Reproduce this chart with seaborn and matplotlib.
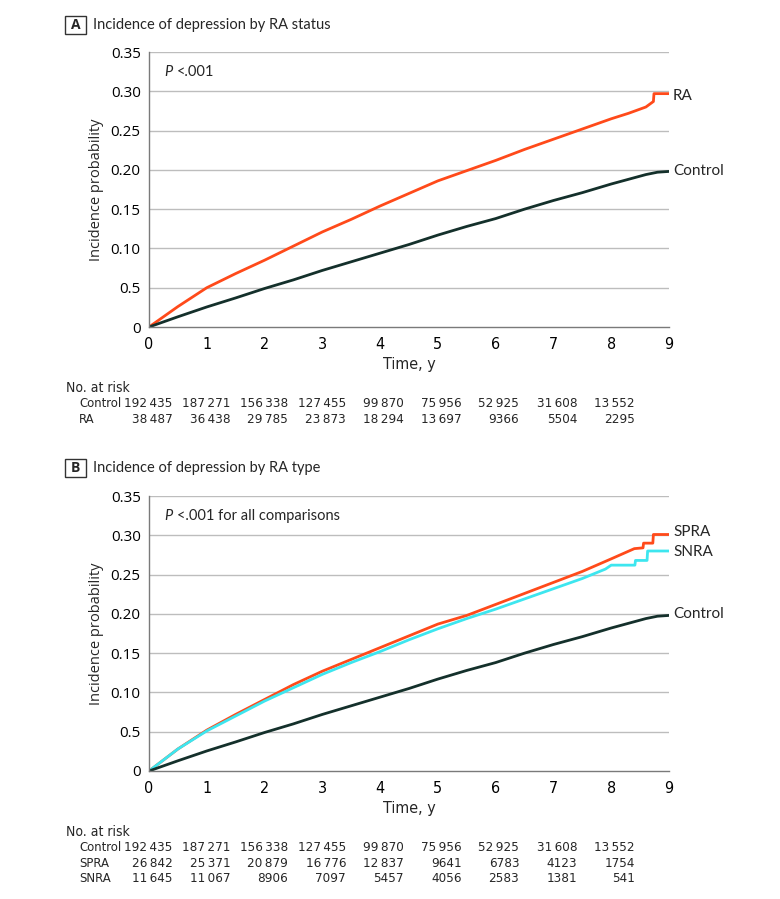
import matplotlib
matplotlib.use("Agg")
import matplotlib.pyplot as plt
import matplotlib.transforms as mtransforms
from matplotlib import font_manager
from matplotlib.font_manager import FontProperties
from matplotlib.patches import Rectangle
import seaborn as sns
import pandas as pd

# ---------------- data ----------------
# Panel A
t_ctrl = [0, 0.5, 1, 1.5, 2, 2.5, 3, 3.5, 4, 4.5, 5, 5.5, 6, 6.5, 7, 7.5, 8, 8.3, 8.6, 8.8, 9]
ctrl = [0, 0.013, 0.0255, 0.037, 0.049, 0.060, 0.072, 0.083, 0.094, 0.105, 0.117, 0.128,
        0.138, 0.150, 0.161, 0.171, 0.182, 0.188, 0.194, 0.197, 0.198]

t_ra = [0, 0.5, 1, 1.5, 2, 2.5, 3, 3.5, 4, 4.5, 5, 5.5, 6, 6.5, 7, 7.5, 8, 8.3, 8.6, 8.73, 8.74, 9]
ra = [0, 0.026, 0.050, 0.068, 0.085, 0.103, 0.121, 0.137, 0.154, 0.170, 0.186, 0.199,
      0.212, 0.226, 0.239, 0.252, 0.265, 0.272, 0.280, 0.287, 0.297, 0.297]

# Panel B
t_spra = [0, 0.5, 1, 1.5, 2, 2.5, 3, 3.5, 4, 4.5, 5, 5.5, 6, 6.5, 7, 7.5, 8, 8.4, 8.55,
          8.56, 8.72, 8.73, 9]
spra = [0, 0.028, 0.052, 0.072, 0.091, 0.110, 0.127, 0.142, 0.157, 0.172, 0.187, 0.198,
        0.212, 0.226, 0.240, 0.254, 0.270, 0.283, 0.284, 0.290, 0.290, 0.301, 0.301]

t_snra = [0, 0.5, 1, 1.5, 2, 2.5, 3, 3.5, 4, 4.5, 5, 5.5, 6, 6.5, 7, 7.5, 7.9, 8.0, 8.41,
          8.42, 8.62, 8.63, 9]
snra = [0, 0.028, 0.051, 0.070, 0.089, 0.106, 0.123, 0.138, 0.152, 0.167, 0.181, 0.194,
        0.206, 0.219, 0.232, 0.245, 0.257, 0.262, 0.262, 0.268, 0.268, 0.280, 0.280]

risk_times = [0, 1, 2, 3, 4, 5, 6, 7, 8]
risk_ctrl = ["192\u2009435", "187\u2009271", "156\u2009338", "127\u2009455", "99\u2009870",
             "75\u2009956", "52\u2009925", "31\u2009608", "13\u2009552"]
risk_ra = ["38\u2009487", "36\u2009438", "29\u2009785", "23\u2009873", "18\u2009294",
           "13\u2009697", "9366", "5504", "2295"]
risk_spra = ["26\u2009842", "25\u2009371", "20\u2009879", "16\u2009776", "12\u2009837",
             "9641", "6783", "4123", "1754"]
risk_snra = ["11\u2009645", "11\u2009067", "8906", "7097", "5457", "4056", "2583", "1381", "541"]

yticks = [0, 0.05, 0.10, 0.15, 0.20, 0.25, 0.30, 0.35]
ytick_labels = ["0", "0.5", "0.10", "0.15", "0.20", "0.25", "0.30", "0.35"]
xticks = list(range(10))

colors = {"Control": "#14302b", "RA": "#ff4a1a", "SPRA": "#ff4a1a", "SNRA": "#3de6ef"}

# ---------------- style ----------------
sns.set_theme(style="white")
avail = {f.name for f in font_manager.fontManager.ttflist}
regular = "Open Sans" if "Open Sans" in avail else "DejaVu Sans"
title_font = "Lato" if "Lato" in avail else regular
plt.rcParams["font.family"] = [regular, "DejaVu Sans"]

# find a condensed / narrow face
cond_file = None
for f in font_manager.fontManager.ttflist:
    n = f.fname.lower()
    if ("narrow" in n or "condensed" in n) and "bold" not in n and "oblique" not in n \
            and "italic" not in n and "light" not in n and "black" not in n \
            and "mono" not in n and "serif" not in n.replace("sans", ""):
        cond_file = f.fname
        if "dejavusanscondensed.ttf" in n or "liberationsansnarrow-regular" in n:
            break


def cprop(size):
    if cond_file:
        return FontProperties(fname=cond_file, size=size)
    return FontProperties(family="DejaVu Sans", size=size * 0.9)


W, H = 780, 899
fig = plt.figure(figsize=(W / 100, H / 100), dpi=100)


def fx(px):
    return px / W


def fy(py):
    return 1 - py / H


GRID = "#bdbdbd"


def make_axes(top_px, series, labels_pos, ptext, title, letter, title_y, table_rows, table_top):
    bottom_px = top_px + 275
    ax = fig.add_axes([fx(149), fy(bottom_px), fx(669) - fx(149), 275 / H])
    frames = []
    for name, tt, vv in series:
        frames.append(pd.DataFrame({"t": tt, "p": vv, "g": name}))
    df = pd.concat(frames, ignore_index=True)
    order = [s[0] for s in series]
    sns.lineplot(data=df, x="t", y="p", hue="g", hue_order=order,
                 palette={k: colors[k] for k in order}, estimator=None, sort=False,
                 linewidth=2.0, legend=False, ax=ax)
    ax.set_xlim(0, 9)
    ax.set_ylim(0, 0.35)
    ax.set_yticks(yticks)
    ax.set_yticklabels(ytick_labels, fontfamily=regular, fontsize=11)
    ax.set_xticks(xticks)
    ax.set_xticklabels([str(x) for x in xticks])
    for lab in ax.get_xticklabels():
        lab.set_fontproperties(cprop(11.5))
    for y in yticks[1:]:
        ax.axhline(y, color=GRID, lw=1.0, zorder=0)
    for s in ["top", "right"]:
        ax.spines[s].set_visible(False)
    ax.spines["left"].set_color("#7a7a7a")
    ax.spines["bottom"].set_color("#7a7a7a")
    ax.spines["left"].set_linewidth(1.0)
    ax.spines["bottom"].set_linewidth(1.0)
    ax.tick_params(axis="both", which="major", length=4, width=1.0, color="#7a7a7a",
                   direction="out", pad=2, labelcolor="black")
    ax.tick_params(axis="x", pad=3)
    ax.set_xlabel("Time, y", fontproperties=cprop(11.5), labelpad=4)
    ax.set_ylabel("Incidence probability", fontfamily=regular, fontsize=10.5, labelpad=5)
    # P-value text
    fig.text(fx(164), fy(top_px + 20), "P", fontsize=10.5, fontstyle="italic", va="center",
             ha="left", fontfamily=title_font)
    fig.text(fx(177), fy(top_px + 20), ptext, fontsize=10.5, va="center", ha="left",
             fontfamily=title_font)
    # end labels
    for lab, ypx in labels_pos:
        fig.text(fx(673), fy(ypx), lab, fontsize=11, va="center", ha="left",
                 fontfamily=title_font)
    # panel letter + title
    fig.patches.append(Rectangle((fx(65), fy(title_y + 9)), fx(21), 18 / H,
                                 transform=fig.transFigure, fill=False,
                                 edgecolor="#333333", lw=1.0))
    fig.text(fx(75.5), fy(title_y), letter, fontsize=10, fontweight="bold",
             ha="center", va="center", fontfamily=regular)
    fig.text(fx(93), fy(title_y), title, fontsize=10.5, ha="left", va="center",
             fontfamily=title_font)
    # number at risk table
    trans = mtransforms.blended_transform_factory(ax.transData, fig.transFigure)
    fig.text(fx(66), fy(table_top), "No. at risk", ha="left", va="center",
             fontproperties=cprop(10))
    for i, (lab, vals) in enumerate(table_rows):
        ypx = table_top + 15.7 + 15.5 * i
        fig.text(fx(79), fy(ypx), lab, ha="left", va="center", fontproperties=cprop(9.4))
        for t, v in zip(risk_times, vals):
            fig.text(t + 0.41, fy(ypx), v, transform=trans, ha="right",
                     va="center", fontproperties=cprop(9.6))
    return ax


make_axes(52,
          [("RA", t_ra, ra), ("Control", t_ctrl, ctrl)],
          [("RA", 96), ("Control", 171)],
          "<.001", "Incidence of depression by RA status", "A", 25,
          [("Control", risk_ctrl), ("RA", risk_ra)], 388)

make_axes(496,
          [("SPRA", t_spra, spra), ("SNRA", t_snra, snra), ("Control", t_ctrl, ctrl)],
          [("SPRA", 532), ("SNRA", 552), ("Control", 614)],
          "<.001 for all comparisons", "Incidence of depression by RA type", "B", 468,
          [("Control", risk_ctrl), ("SPRA", risk_spra), ("SNRA", risk_snra)], 832)

fig.savefig("out.png", dpi=100, facecolor="white")
